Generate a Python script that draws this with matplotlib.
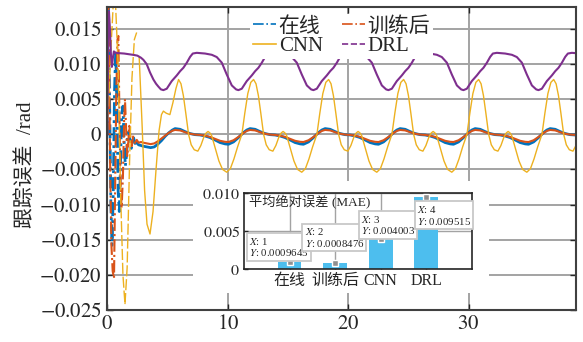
import numpy as np
import matplotlib
matplotlib.use("Agg")
import matplotlib.pyplot as plt
from matplotlib.lines import Line2D
from matplotlib.patches import Rectangle

plt.rcParams["font.family"] = ["Liberation Serif", "Noto Sans CJK SC"]
plt.rcParams["mathtext.fontset"] = "stix"

# ---------------------------------------------
# data
# ---------------------------------------------
period = 6.23  # spacing of the repeating peaks

# online (在线): start-up part, then one steady cycle starting at a peak
online_start_t = [0.0, 0.04, 0.1, 0.2, 0.3, 0.4, 0.5, 0.6, 0.7, 0.8, 0.9, 1.0, 1.1, 1.2, 1.3,
                  1.4, 1.5, 1.6, 1.7, 1.8, 1.9, 2.0, 2.1, 2.2, 2.3, 2.45, 2.6, 2.8, 3.0, 3.3,
                  3.6, 3.9, 4.2, 4.5, 4.8, 5.1, 5.4]
online_start_v = [0.0, 0.012, 0.0185, 0.004, -0.010, -0.0158, -0.008, 0.006, 0.012, 0.004,
                  -0.008, -0.011, -0.004, 0.003, 0.004, -0.001, -0.0045, -0.003, 0.0, 0.0004,
                  -0.0015, -0.002, -0.0008, -0.0006, -0.0013, -0.0012, -0.0015, -0.0016,
                  -0.0017, -0.0018, -0.0019, -0.0018, -0.0014, -0.0009, -0.0003, 0.0002, 0.0006]
online_cycle_t0 = 5.63
online_cycle_dt = [0, 0.42, 0.83, 1.25, 1.66, 2.08, 2.49, 2.91, 3.32, 3.74, 4.16, 4.43, 4.85,
                   5.26, 5.68, 5.96]
online_cycle_v = [0.00081, 0.00071, 0.00038, 0.0001, -0.00005, -0.0001, -0.00024, -0.00047,
                  -0.00081, -0.00118, -0.00137, -0.00142, -0.00109, -0.00047, 0.00024, 0.00061]

# trained (训练后)
trained_start_t = [0.0, 0.04, 0.09, 0.15, 0.25, 0.35, 0.45, 0.56, 0.65, 0.75, 0.85, 0.92, 1.0,
                   1.1, 1.19, 1.3, 1.4, 1.47, 1.56, 1.66, 1.75, 1.83, 1.93, 2.03, 2.16, 2.3,
                   2.45, 2.6, 2.8, 3.0, 3.3, 3.6, 3.9, 4.2, 4.5, 4.8, 5.1, 5.4]
trained_start_v = [0.0, 0.015, 0.019, 0.010, -0.006, -0.016, -0.0195, -0.0205, -0.008, 0.006,
                   0.0135, 0.014, 0.004, -0.007, -0.0105, -0.006, 0.002, 0.005, 0.001, -0.0031,
                   -0.001, 0.0012, -0.0005, -0.0017, -0.0002, -0.0012, -0.0008, -0.0012,
                   -0.0011, -0.0012, -0.0013, -0.0014, -0.0013, -0.001, -0.0006, -0.0002,
                   0.0002, 0.0005]
trained_cycle_t0 = 5.63
trained_cycle_dt = online_cycle_dt
trained_cycle_v = [0.00062, 0.00055, 0.00030, 0.00008, -0.00004, -0.00009, -0.0002, -0.00038,
                   -0.00065, -0.00093, -0.00107, -0.0011, -0.00085, -0.00038, 0.00018, 0.00048]

# CNN
cnn_start_t = [0.0, 0.3, 0.6, 0.9, 1.1, 1.3, 1.47, 1.65, 1.85, 2.05, 2.25, 2.44, 2.65, 2.9, 3.1,
               3.3, 3.55, 3.8, 4.05, 4.3, 4.5, 4.66, 4.9, 5.2, 5.45, 5.7]
cnn_start_v = [0.0, 0.012, 0.022, 0.010, -0.008, -0.020, -0.0242, -0.019, -0.004, 0.008,
               0.0135, 0.0145, 0.011, 0.001, -0.008, -0.0128, -0.0142, -0.011, -0.005, 0.0005,
               0.0028, 0.0033, 0.0030, 0.0028, 0.0045, 0.0065]
cnn_cycle_t0 = 5.92
cnn_cycle_dt = [0, 0.2, 0.4, 0.6, 0.83, 1.05, 1.3, 1.6, 1.85, 2.1, 2.3, 2.45, 2.6, 2.75, 3.05,
                3.35, 3.65, 4.0, 4.3, 4.6, 4.9, 5.26, 5.5, 5.75, 6.0]
cnn_cycle_v = [0.0078, 0.0072, 0.0055, 0.003, 0.0, -0.0015, -0.0022, -0.0024, -0.0016, -0.0004,
               0.0002, 0.0004, 0.0002, -0.0002, -0.002, -0.0038, -0.005, -0.0054, -0.0049,
               -0.0035, -0.0018, 0.0, 0.003, 0.0058, 0.0074]

# DRL
drl_start_t = [0.0, 0.04, 0.08, 0.14, 0.22, 0.3, 0.38, 0.46, 0.55, 0.7, 1.0, 1.4, 1.8, 2.2,
               2.5, 2.8, 3.0, 3.27, 3.55, 3.83, 4.05, 4.24, 4.45]
drl_start_v = [0.0, 0.009, 0.0165, 0.0175, 0.015, 0.0115, 0.0096, 0.0108, 0.0118, 0.0116,
               0.01155, 0.0115, 0.0114, 0.0113, 0.0112, 0.0109, 0.0106, 0.0100, 0.0088,
               0.0078, 0.0072, 0.0068, 0.0064]
drl_cycle_t0 = 4.66
drl_cycle_dt = [0, 0.28, 0.69, 1.11, 1.39, 1.66, 1.94, 2.22, 2.44, 2.77, 3.46, 4.02, 4.43, 4.85,
                5.26, 5.68, 6.04]
drl_cycle_v = [0.00629, 0.00649, 0.00757, 0.00838, 0.00899, 0.00947, 0.01018, 0.01103, 0.0115,
               0.0116, 0.0115, 0.01132, 0.0110, 0.0102, 0.00852, 0.00696, 0.00639]

# inset: mean absolute error
mae_labels = ["在线", "训练后", "CNN", "DRL"]
mae_values = [0.0009645, 0.0008476, 0.004003, 0.009515]
mae_text = ["0.0009645", "0.0008476", "0.004003", "0.009515"]

xtick_vals = [0, 10, 20, 30]
ytick_vals = [-0.025, -0.02, -0.015, -0.01, -0.005, 0, 0.005, 0.01, 0.015]
ytick_labels = ["$-0.025$", "$-0.020$", "$-0.015$", "$-0.010$", "$-0.005$",
                "$0$", "$0.005$", "$0.010$", "$0.015$"]


def build(start_t, start_v, t0, cycle_dt, cycle_v, t_end=39.5):
    t = list(start_t)
    v = list(start_v)
    k = 0
    while t0 + k * period < t_end:
        t += [t0 + k * period + d for d in cycle_dt]
        v += list(cycle_v)
        k += 1
    return np.array(t), np.array(v)


t_on, v_on = build(online_start_t, online_start_v, online_cycle_t0, online_cycle_dt, online_cycle_v)
t_tr, v_tr = build(trained_start_t, trained_start_v, trained_cycle_t0, trained_cycle_dt, trained_cycle_v)
t_cnn, v_cnn = build(cnn_start_t, cnn_start_v, cnn_cycle_t0, cnn_cycle_dt, cnn_cycle_v)
t_drl, v_drl = build(drl_start_t, drl_start_v, drl_cycle_t0, drl_cycle_dt, drl_cycle_v)

c_on, c_tr, c_cnn, c_drl = "#0072BD", "#D95319", "#EDB120", "#7E2F8E"
grid_c = "#a3a3a3"

# ---------------------------------------------
# main axes
# ---------------------------------------------
fig = plt.figure(figsize=(5.83, 3.42), dpi=100)
ax = fig.add_axes([0.184, 0.094, 0.8035, 0.885])

def split_plot(t, v, t_split, color, lw, dash):
    m1 = t <= t_split
    m2 = t >= t_split
    ax.plot(t[m1], v[m1], color=color, lw=lw, linestyle=dash)
    ax.plot(t[m2], v[m2], color=color, lw=lw, linestyle="-")

split_plot(t_on, v_on, 2.2, c_on, 2.0, (0, (5, 1.5, 1, 1.5)))
split_plot(t_tr, v_tr, 2.2, c_tr, 1.5, (0, (6, 1.5, 1, 1.5)))
split_plot(t_cnn, v_cnn, 2.6, c_cnn, 1.0, (0, (8, 2)))
ax.plot(t_drl, v_drl, color=c_drl, lw=1.5)

ax.set_xlim(0, 38.9)
ax.set_ylim(-0.025, 0.0181)
ax.set_xticks(xtick_vals)
ax.set_xticklabels(["$%d$" % x for x in xtick_vals])
ax.set_yticks(ytick_vals)
ax.set_yticklabels(ytick_labels)
ax.grid(True, color=grid_c, lw=1.4)
ax.tick_params(direction="in", length=4, width=1, labelsize=15, pad=4,
               top=True, right=True, colors="#262626")
for s in ax.spines.values():
    s.set_color("#404040")
    s.set_linewidth(1.5)
ax.set_ylabel("跟踪误差  /rad", fontsize=15, color="#262626")
ax.yaxis.set_label_coords(-0.152, 0.48)

# legend filled row by row: 在线, 训练后 / CNN, DRL
handles = [
    Line2D([], [], color=c_on, lw=1.2, linestyle="-."),
    Line2D([], [], color=c_cnn, lw=1.2, linestyle="-"),
    Line2D([], [], color=c_tr, lw=1.2, linestyle="-."),
    Line2D([], [], color=c_drl, lw=1.2, linestyle="--"),
]
leg = ax.legend(handles, ["在线", "CNN", "训练后", "DRL"], ncol=2, loc="upper center",
                bbox_to_anchor=(0.50, 1.013), fontsize=15, frameon=True, fancybox=False,
                facecolor="white", edgecolor="none", framealpha=1, handlelength=1.1,
                handletextpad=0.15, columnspacing=0.9, labelspacing=0.0, borderpad=0.15)
for txt in leg.get_texts():
    txt.set_color("#262626")

# white area behind the inset
fig.add_artist(Rectangle((0.331, 0.1433), 0.5078, 0.3275, transform=fig.transFigure,
                         facecolor="white", edgecolor="none", zorder=1))

# ---------------------------------------------
# inset bar chart
# ---------------------------------------------
ax_in = fig.add_axes([0.4185, 0.2135, 0.391, 0.2222])
ax_in.set_zorder(2)
xs = np.arange(1, len(mae_values) + 1)
ax_in.bar(xs, mae_values, width=0.52, color="#4DBEEE", zorder=2)
ax_in.set_xlim(0, 5)
ax_in.set_ylim(0, 0.01)
ax_in.set_xticks(xs)
ax_in.set_xticklabels(mae_labels)
ax_in.set_yticks([0, 0.005, 0.01])
ax_in.set_yticklabels(["$0$", "$0.005$", "$0.010$"])
ax_in.set_axisbelow(True)
ax_in.grid(True, color=grid_c, lw=1.0)
ax_in.tick_params(direction="in", length=3, width=1, labelsize=11.5, pad=3, colors="#262626")
for s in ax_in.spines.values():
    s.set_color("#262626")
    s.set_linewidth(1.2)
ax_in.text(0.12, 0.0088, "平均绝对误差 (MAE)", fontsize=9.5, va="center", ha="left",
           color="#262626")

tip_pos = [(0.12, 0.0044), (1.33, 0.0057), (2.56, 0.0073), (3.79, 0.0086)]
ax_in.plot(xs, mae_values, "s", ms=4, mfc="#909090", mec="white", mew=1, zorder=4)
for i, (px, py) in enumerate(tip_pos):
    ax_in.text(px, py, "$X$: %d\n$Y$: %s" % (i + 1, mae_text[i]), fontsize=7.8,
               ha="left", va="top", linespacing=1.1, color="#262626", zorder=5,
               bbox=dict(boxstyle="square,pad=0.2", facecolor="white", edgecolor="#c8c8c8",
                         lw=1.3))

plt.savefig("out.png", dpi=100)
